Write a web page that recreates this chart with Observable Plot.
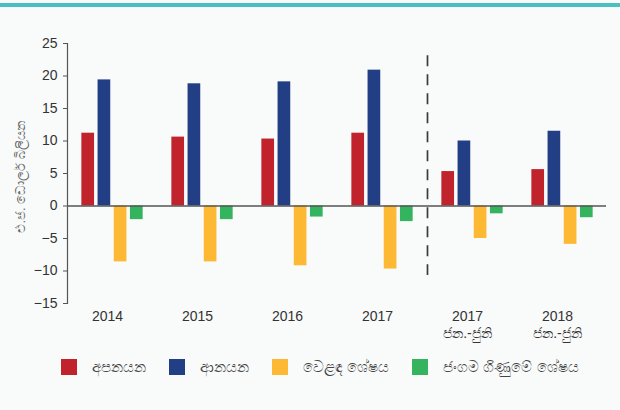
<!DOCTYPE html>
<html>
<head>
<meta charset="utf-8">
<script src="https://cdn.jsdelivr.net/npm/d3@7"></script>
<script src="https://cdn.jsdelivr.net/npm/@observablehq/plot@0.6"></script>
<style>
  html, body { margin: 0; padding: 0; background: #f9fafa; }
  body { width: 620px; height: 410px; position: relative; overflow: hidden; font-family: "Liberation Sans", Arial, sans-serif; }
  #topbar { position: absolute; left: 0; top: 3px; width: 620px; height: 4px; background: #4cc0be; }
  #chart { position: absolute; left: 0; top: 0; }
  #legend { position: absolute; left: 61px; top: 359px; height: 16px; display: flex; align-items: center; font-size: 15px; color: #444; white-space: nowrap; }
  .item { display: flex; align-items: center; margin-right: 23px; white-space: nowrap; flex: none; }
  .sw { width: 16px; height: 16px; margin-right: 15px; flex: none; }
</style>
</head>
<body>
<div id="topbar"></div>
<div id="chart"></div>
<div id="legend"></div>
<script>
// ---- data ----
const periods = ["2014", "2015", "2016", "2017", "2017\nජන.-ජුනි", "2018\nජන.-ජුනි"];
const seriesNames = ["අපනයන", "ආනයන", "වෙළඳ ශේෂය", "ජංගම ගිණුමේ ශේෂය"];
const seriesColors = ["#c1232d", "#223f86", "#fdb933", "#34b45e"];
const exportsVals = [11.2, 10.6, 10.3, 11.2, 5.3, 5.6];
const importsVals = [19.4, 18.8, 19.1, 20.9, 10.0, 11.5];
const tradeBalance = [-8.6, -8.6, -9.2, -9.7, -5.0, -5.9];
const currentAccount = [-2.1, -2.1, -1.7, -2.4, -1.2, -1.8];
const yTicks = [-15, -10, -5, 0, 5, 10, 15, 20, 25];
const yLabel = "එ.ජ. ඩොලර් බිලියන";
const separatorBefore = "2017\nජන.-ජුනි";
const separatorSpan = [23.1, -10.7];

const seriesValues = [exportsVals, importsVals, tradeBalance, currentAccount];

// ---- layout ----
const W = 620, H = 345;
const mLeft = 67, mRight = 14, mTop = 43, mBottom = 42;
const padInner = 0.2, padOuter = 0.094;
const step = (W - mLeft - mRight) / (periods.length - padInner + 2 * padOuter);
const bandW = step * (1 - padInner);
const barW = 12.7, barStep = 16.2;
const inset = (bandW - barW) / 2;
const font = "'Liberation Sans', Arial, sans-serif";

const marks = [];
seriesValues.forEach((vals, k) => {
  const rows = periods.map((p, i) => ({period: p, value: vals[i], series: seriesNames[k]}));
  marks.push(Plot.barY(rows, {
    x: "period", y: "value", fill: seriesColors[k],
    insetLeft: inset, insetRight: inset, dx: (k - 1.5) * barStep
  }));
});
marks.push(Plot.ruleY([0], {stroke: "#555", strokeWidth: 1.5}));
marks.push(Plot.frame({anchor: "left", stroke: "#555", strokeWidth: 1.2}));
marks.push(Plot.ruleX([separatorBefore], {
  dx: -step / 2, y1: separatorSpan[0], y2: separatorSpan[1],
  stroke: "#3a3a3a", strokeWidth: 1.7, strokeDasharray: "11,8"
}));
marks.push(Plot.axisY({ticks: yTicks, tickSize: 4, tickPadding: 6, label: null, stroke: "#555", fill: "#333", fontSize: 14}));
marks.push(Plot.axisX({tickSize: 0, tickPadding: 6, dx: -5, label: null, fill: "#333", fontSize: 14, lineHeight: 1.2}));
marks.push(Plot.text([yLabel], {frameAnchor: "left", rotate: -90, textAnchor: "start", dx: -47, dy: 59, fontSize: 13, fill: "#666"}));

const chart = Plot.plot({
  width: W, height: H,
  marginLeft: mLeft, marginRight: mRight, marginTop: mTop, marginBottom: mBottom,
  style: {background: "transparent", fontFamily: font, fontSize: "14px", color: "#333"},
  x: {type: "band", domain: periods, paddingInner: padInner, paddingOuter: padOuter, axis: null},
  y: {domain: [-15, 25], axis: null},
  marks
});
document.getElementById("chart").appendChild(chart);

// ---- legend ----
const legend = document.getElementById("legend");
seriesNames.forEach((name, k) => {
  const item = document.createElement("div");
  item.className = "item";
  const sw = document.createElement("div");
  sw.className = "sw";
  sw.style.background = seriesColors[k];
  const label = document.createElement("span");
  label.textContent = name;
  item.appendChild(sw);
  item.appendChild(label);
  legend.appendChild(item);
});
</script>
</body>
</html>
